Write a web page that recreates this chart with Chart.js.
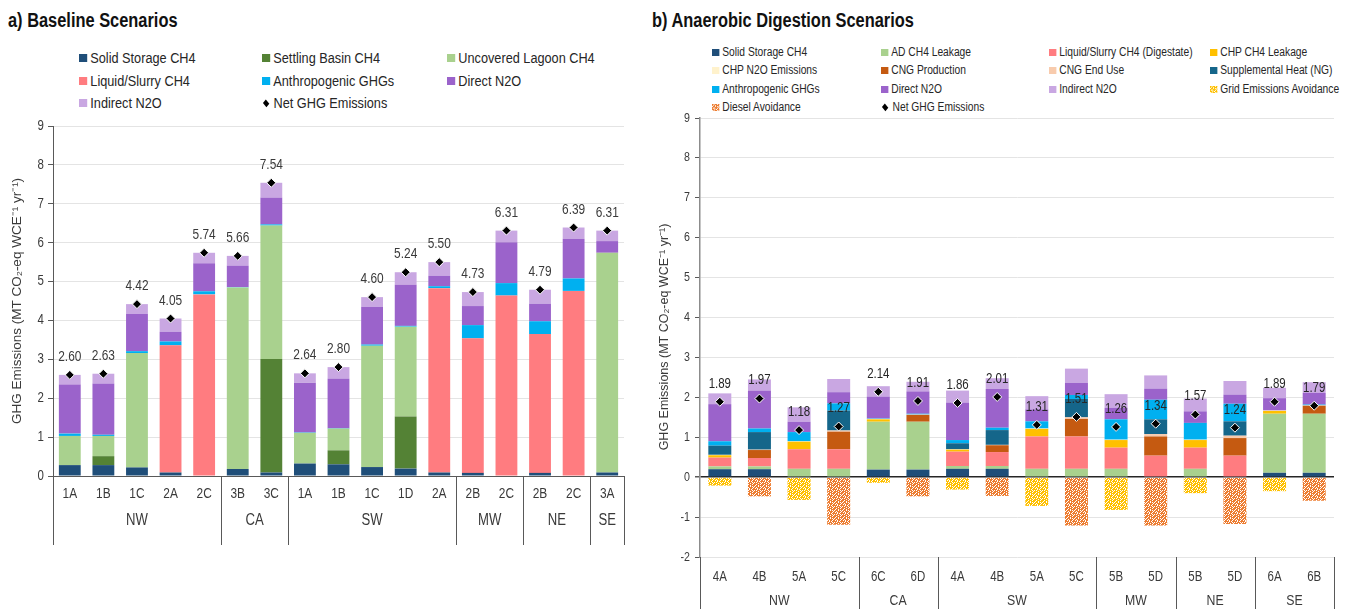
<!DOCTYPE html>
<html>
<head>
<meta charset="utf-8">
<script src="https://cdn.jsdelivr.net/npm/chart.js@4.4.1/dist/chart.umd.min.js"></script>
<style>
  body { margin: 0; width: 1355px; height: 609px; position: relative; background: #fff; overflow: hidden;
         font-family: 'Liberation Sans', Arial, sans-serif; color: #262626; }
  .narrow { position: absolute; white-space: nowrap; transform: scaleX(0.82); transform-origin: 0 50%; }
  .title { font-weight: bold; font-size: 20px; color: #111; }
  .lg { display: flex; align-items: center; height: 18px; }
  .sw { display: inline-block; flex: none; }
  canvas { position: absolute; }
</style>
</head>
<body>
<div class="narrow title" style="left:8px;top:9px">a) Baseline Scenarios</div>
<div class="narrow title" style="left:652px;top:9px">b) Anaerobic Digestion Scenarios</div>
<div id="legA"></div>
<div id="legB"></div>
<canvas id="chartA" width="640" height="497" style="left:0;top:112px"></canvas>
<canvas id="chartB" width="705" height="501" style="left:650px;top:108px"></canvas>

<script>
// ---------- a) Baseline scenarios (MT CO2-eq per WCE per year) ----------
const baseScenarios = ['1A','1B','1C','2A','2C','3B','3C','1A','1B','1C','1D','2A','2B','2C','2B','2C','3A'];
const baseRegions   = ['NW','NW','NW','NW','NW','CA','CA','SW','SW','SW','SW','SW','MW','MW','NE','NE','SE'];
const baseSolidStorage   = [0.28,0.28,0.22,0.09,0.00,0.18,0.09,0.32,0.30,0.23,0.19,0.09,0.08,0.00,0.08,0.00,0.09];
const baseSettlingBasin  = [0.00,0.23,0.00,0.00,0.00,0.00,2.92,0.00,0.36,0.00,1.34,0.00,0.00,0.00,0.00,0.00,0.00];
const baseUncoveredLagoon= [0.75,0.52,2.94,0.00,0.00,4.67,3.43,0.79,0.56,3.12,2.31,0.00,0.00,0.00,0.00,0.00,5.65];
const baseLiquidSlurry   = [0.00,0.00,0.00,3.27,4.67,0.00,0.00,0.00,0.00,0.00,0.00,4.74,3.46,4.64,3.57,4.76,0.00];
const baseAnthropogenic  = [0.06,0.03,0.05,0.10,0.08,0.01,0.03,0.01,0.01,0.03,0.02,0.05,0.34,0.32,0.33,0.32,0.00];
const baseDirectN2O      = [1.26,1.32,0.96,0.25,0.72,0.55,0.69,1.28,1.28,0.97,1.06,0.27,0.49,1.05,0.45,1.02,0.30];
const baseIndirectN2O    = [0.25,0.25,0.25,0.34,0.27,0.25,0.38,0.24,0.29,0.25,0.32,0.35,0.36,0.30,0.36,0.29,0.27];
const baseNet            = [2.60,2.63,4.42,4.05,5.74,5.66,7.54,2.64,2.80,4.60,5.24,5.50,4.73,6.31,4.79,6.39,6.31];
const baseYTicks = [0,1,2,3,4,5,6,7,8,9];

// ---------- b) Anaerobic digestion scenarios ----------
const adScenarios = ['4A','4B','5A','5C','6C','6D','4A','4B','5A','5C','5B','5D','5B','5D','6A','6B'];
const adRegions   = ['NW','NW','NW','NW','CA','CA','SW','SW','SW','SW','MW','MW','NE','NE','SE','SE'];
const adSolidStorage  = [0.20,0.20,0.00,0.00,0.19,0.19,0.21,0.21,0.00,0.00,0.00,0.00,0.00,0.00,0.11,0.11];
const adCH4Leakage    = [0.07,0.07,0.21,0.21,1.20,1.20,0.07,0.07,0.21,0.21,0.21,0.00,0.21,0.00,1.48,1.48];
const adLiquidSlurry  = [0.22,0.21,0.49,0.49,0.00,0.00,0.36,0.35,0.81,0.81,0.53,0.54,0.53,0.54,0.00,0.00];
const adCHPCH4Leak    = [0.06,0.00,0.19,0.00,0.06,0.00,0.05,0.00,0.19,0.00,0.19,0.00,0.19,0.00,0.07,0.00];
const adCHPN2O        = [0.01,0.00,0.01,0.00,0.01,0.00,0.01,0.00,0.01,0.00,0.01,0.00,0.01,0.00,0.01,0.00];
const adCNGProduction = [0.00,0.20,0.00,0.44,0.00,0.17,0.00,0.17,0.00,0.44,0.00,0.48,0.00,0.44,0.00,0.20];
const adCNGEndUse     = [0.00,0.01,0.00,0.03,0.00,0.01,0.00,0.01,0.00,0.04,0.00,0.06,0.00,0.06,0.00,0.01];
const adSupplHeat     = [0.23,0.44,0.00,0.50,0.00,0.00,0.15,0.37,0.00,0.46,0.00,0.37,0.00,0.36,0.00,0.00];
const adAnthropogenic = [0.11,0.09,0.23,0.18,0.01,0.02,0.08,0.06,0.18,0.10,0.51,0.49,0.42,0.44,0.00,0.02];
const adDirectN2O     = [0.93,0.95,0.26,0.28,0.55,0.56,0.94,0.97,0.30,0.30,0.29,0.28,0.29,0.23,0.31,0.29];
const adIndirectN2O   = [0.27,0.28,0.36,0.33,0.26,0.24,0.30,0.27,0.33,0.36,0.34,0.33,0.32,0.34,0.26,0.27];
const adGridAvoidance = [-0.21,0,-0.57,0,-0.14,0,-0.31,0,-0.72,0,-0.82,0,-0.40,0,-0.35,0];
const adDieselAvoid   = [0,-0.48,0,-1.19,0,-0.48,0,-0.47,0,-1.21,0,-1.21,0,-1.17,0,-0.59];
const adNet           = [1.89,1.97,1.18,1.27,2.14,1.91,1.86,2.01,1.31,1.51,1.26,1.34,1.57,1.24,1.89,1.79];
const adYTicks = [-2,-1,0,1,2,3,4,5,6,7,8,9];

const FONT = "'Liberation Sans', Arial, sans-serif";
const NARROW = 0.82;   // horizontal squeeze for a narrow face
const TXT = '#3a3a3a';
const AXIS_TITLE = 'GHG Emissions (MT CO\u2082-eq WCE\u207B\u00B9 yr\u207B\u00B9)';

// speckled tile used for the avoided-emission bars
const SPECKLE = [
  'XX.XXX.X',
  'X.XX.XXX',
  '.XXX.X.X',
  'XX.XXXX.',
  'X.X.XX.X',
  'XXX.X.XX',
  '.X.XXX.X',
  'XXXX.XX.'
];
function speckleTile(color) {
  const c = document.createElement('canvas');
  c.width = c.height = 8;
  const g = c.getContext('2d');
  g.fillStyle = '#fff'; g.fillRect(0, 0, 8, 8);
  g.fillStyle = color;
  SPECKLE.forEach((row, y) => [...row].forEach((ch, x) => { if (ch === 'X') g.fillRect(x, y, 1, 1); }));
  return c;
}

// canvas text, optionally squeezed horizontally
function drawText(ctx, str, x, y, size, o = {}) {
  ctx.save();
  ctx.font = `${o.bold ? 'bold ' : ''}${size}px ${FONT}`;
  ctx.fillStyle = o.color || TXT;
  ctx.textAlign = o.align || 'center';
  ctx.textBaseline = 'middle';
  ctx.translate(x, y);
  if (o.rotate) ctx.rotate(o.rotate);
  const sx = o.squeeze === false ? 1 : NARROW;
  ctx.scale(sx, 1);
  ctx.fillText(str, 0, 0);
  ctx.restore();
}

// tick labels and axis title
const axisText = {
  id: 'axisText',
  afterDraw(chart, args, o) {
    const { ctx, chartArea, scales: { x, y } } = chart;
    chart.data.labels.forEach((lab, i) =>
      drawText(ctx, lab, x.getPixelForValue(i), chartArea.bottom + o.xOffset, o.xSize));
    y.ticks.forEach(t =>
      drawText(ctx, String(t.value), o.yRight, y.getPixelForValue(t.value), o.ySize, { align: 'right' }));
    drawText(ctx, AXIS_TITLE, o.titleX, o.titleY, o.titleSize, { rotate: -Math.PI / 2, squeeze: false });
  }
};

// region brackets under the scenario labels
const groupAxis = {
  id: 'groupAxis',
  afterDraw(chart, args, o) {
    const { ctx, chartArea, scales: { x } } = chart;
    const regions = o.regions, n = regions.length;
    const edge = i => i <= 0 ? x.left : (i >= n ? x.right : (x.getPixelForValue(i - 1) + x.getPixelForValue(i)) / 2);
    let start = 0;
    const bounds = [0];
    for (let i = 1; i <= n; i++) {
      if (i === n || regions[i] !== regions[start]) {
        drawText(ctx, regions[start], (edge(start) + edge(i)) / 2, chartArea.bottom + o.labelOffset, o.size);
        bounds.push(i);
        start = i;
      }
    }
    ctx.save();
    ctx.strokeStyle = o.lineColor; ctx.lineWidth = 1;
    bounds.forEach(i => {
      const px = Math.round(edge(i)) + 0.5;
      ctx.beginPath(); ctx.moveTo(px, chartArea.bottom); ctx.lineTo(px, chartArea.bottom + o.lineLength); ctx.stroke();
    });
    ctx.restore();
  }
};

// value labels above the net-emission markers
const netLabels = {
  id: 'netLabels',
  afterDatasetsDraw(chart, args, o) {
    const idx = chart.data.datasets.findIndex(d => d.isNet);
    const ds = chart.data.datasets[idx];
    chart.getDatasetMeta(idx).data.forEach((pt, k) =>
      drawText(chart.ctx, ds.data[k].toFixed(2), pt.x, pt.y - o.offset, o.size, { color: o.color }));
  }
};

function barSet(label, data, color) {
  return { label, data, backgroundColor: color, borderWidth: 0, stack: 'ghg', order: 1 };
}
function netSet(data) {
  return { type: 'line', label: 'Net GHG Emissions', data, isNet: true, stack: 'net', order: 0,
           showLine: false, pointStyle: 'rectRot', pointRadius: 4.5, pointBackgroundColor: '#000',
           pointBorderColor: '#fff', pointBorderWidth: 1 };
}

const C = {
  solid: '#1F4E79', settling: '#548235', lagoon: '#A9D18E', liquid: '#FF7C80', anthro: '#00B0F0',
  direct: '#9B63CB', indirect: '#C9A7E2', chpch4: '#FFC000', chpn2o: '#FFF2CC', cngprod: '#C55A11',
  cngend: '#F8CBAD', heat: '#15668A', grid: '#FFC000', diesel: '#ED7D31'
};

// ---------- chart a ----------
const dsA = [
  barSet('Solid Storage CH4', baseSolidStorage, C.solid),
  barSet('Settling Basin CH4', baseSettlingBasin, C.settling),
  barSet('Uncovered Lagoon CH4', baseUncoveredLagoon, C.lagoon),
  barSet('Liquid/Slurry CH4', baseLiquidSlurry, C.liquid),
  barSet('Anthropogenic GHGs', baseAnthropogenic, C.anthro),
  barSet('Direct N2O', baseDirectN2O, C.direct),
  barSet('Indirect N2O', baseIndirectN2O, C.indirect),
  netSet(baseNet)
];

new Chart(document.getElementById('chartA'), {
  type: 'bar',
  data: { labels: baseScenarios, datasets: dsA },
  plugins: [axisText, groupAxis, netLabels],
  options: {
    responsive: false, animation: false,
    layout: { padding: { left: 0, right: 16, top: 14, bottom: 0 } },
    datasets: { bar: { categoryPercentage: 1, barPercentage: 0.65 } },
    plugins: {
      legend: { display: false }, tooltip: { enabled: false },
      axisText: { xOffset: 18, xSize: 14.5, yRight: 44, ySize: 14, titleX: 17, titleY: 189, titleSize: 13.5 },
      groupAxis: { regions: baseRegions, size: 16, labelOffset: 45, lineLength: 69, lineColor: '#595959' },
      netLabels: { size: 14.5, color: TXT, offset: 18 }
    },
    scales: {
      x: {
        stacked: true,
        grid: { display: false, drawTicks: false },
        border: { color: '#595959', width: 1 },
        ticks: { display: false },
        afterFit: s => { s.height = 133; }
      },
      y: {
        stacked: true, min: 0, max: 9,
        afterBuildTicks: s => { s.ticks = baseYTicks.map(v => ({ value: v })); },
        grid: { color: '#E4E4E4', tickColor: '#595959', tickLength: 5 },
        border: { color: '#595959', width: 1 },
        ticks: { display: false },
        afterFit: s => { s.width = 53; }
      }
    }
  }
});

// ---------- chart b ----------
const ctxB = document.getElementById('chartB').getContext('2d');
const gridPattern = ctxB.createPattern(speckleTile(C.grid), 'repeat');
const dieselPattern = ctxB.createPattern(speckleTile(C.diesel), 'repeat');

const dsB = [
  barSet('Solid Storage CH4', adSolidStorage, C.solid),
  barSet('AD CH4 Leakage', adCH4Leakage, C.lagoon),
  barSet('Liquid/Slurry CH4 (Digestate)', adLiquidSlurry, C.liquid),
  barSet('CHP CH4 Leakage', adCHPCH4Leak, C.chpch4),
  barSet('CHP N2O Emissions', adCHPN2O, C.chpn2o),
  barSet('CNG Production', adCNGProduction, C.cngprod),
  barSet('CNG End Use', adCNGEndUse, C.cngend),
  barSet('Supplemental Heat (NG)', adSupplHeat, C.heat),
  barSet('Anthropogenic GHGs', adAnthropogenic, C.anthro),
  barSet('Direct N2O', adDirectN2O, C.direct),
  barSet('Indirect N2O', adIndirectN2O, C.indirect),
  barSet('Grid Emissions Avoidance', adGridAvoidance, gridPattern),
  barSet('Diesel Avoidance', adDieselAvoid, dieselPattern),
  netSet(adNet)
];

new Chart(ctxB, {
  type: 'bar',
  data: { labels: adScenarios, datasets: dsB },
  plugins: [axisText, groupAxis, netLabels],
  options: {
    responsive: false, animation: false,
    layout: { padding: { left: 0, right: 21, top: 10, bottom: 0 } },
    datasets: { bar: { categoryPercentage: 1, barPercentage: 0.58 } },
    plugins: {
      legend: { display: false }, tooltip: { enabled: false },
      axisText: { xOffset: 20, xSize: 14, yRight: 40, ySize: 13, titleX: 15, titleY: 229, titleSize: 12.5 },
      groupAxis: { regions: adRegions, size: 15, labelOffset: 44, lineLength: 60, lineColor: '#595959' },
      netLabels: { size: 14, color: '#262626', offset: 18 }
    },
    scales: {
      x: {
        stacked: true,
        grid: { display: false, drawTicks: false },
        border: { display: false },
        ticks: { display: false },
        afterFit: s => { s.height = 52; }
      },
      y: {
        stacked: true, min: -2, max: 9,
        afterBuildTicks: s => { s.ticks = adYTicks.map(v => ({ value: v })); },
        grid: {
          color: c => (c.tick && c.tick.value === 0) ? '#262626' : '#E4E4E4',
          lineWidth: c => (c.tick && c.tick.value === 0) ? 1.5 : 1,
          tickColor: '#595959', tickLength: 5
        },
        border: { color: '#8c8c8c', width: 1.5 },
        ticks: { display: false },
        afterFit: s => { s.width = 50; }
      }
    }
  }
});

// ---------- legends ----------
function swatchHTML(ds, size) {
  const w = (size / NARROW).toFixed(1);
  if (ds.isNet) {
    return `<span class="sw" style="width:${(5 / NARROW).toFixed(1)}px;height:5px;background:#000;transform:rotate(45deg);margin:0 6px 0 2px"></span>`;
  }
  let bg = ds.backgroundColor;
  if (typeof bg !== 'string') {
    const tile = speckleTile(ds.label.startsWith('Grid') ? C.grid : C.diesel);
    bg = `url(${tile.toDataURL()})`;
  }
  return `<span class="sw" style="width:${w}px;height:${size}px;background:${bg};margin-right:4px"></span>`;
}
function buildLegend(el, datasets, cols, rows, size, fontSize) {
  el.innerHTML = datasets.map((ds, i) => {
    const x = cols[i % cols.length], y = rows[Math.floor(i / cols.length)];
    return `<div class="narrow lg" style="left:${x}px;top:${y - 9}px;font-size:${fontSize}px">${swatchHTML(ds, size)}${ds.label}</div>`;
  }).join('');
}
buildLegend(document.getElementById('legA'), dsA, [79, 262, 447], [58, 81, 103], 8, 15.5);
buildLegend(document.getElementById('legB'), dsB, [712, 881, 1049, 1210], [52, 70, 89, 107], 7, 12.5);
</script>
</body>
</html>
